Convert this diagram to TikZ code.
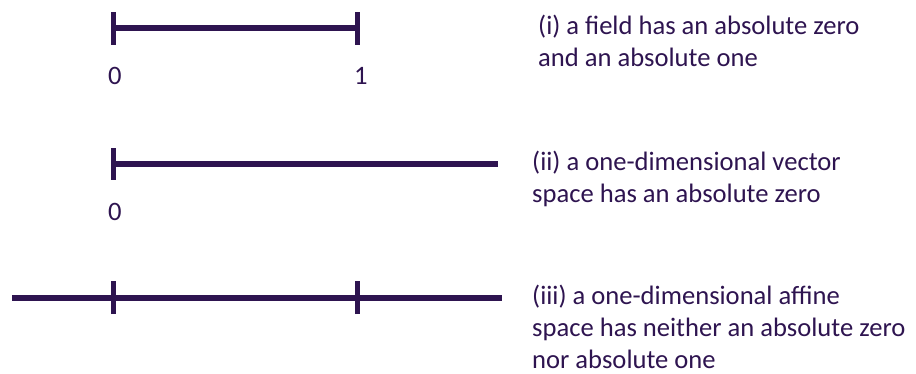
\documentclass[tikz,border=0pt]{standalone}
\usepackage{fontspec}
\setmainfont{Carlito}
\usetikzlibrary{positioning}
\definecolor{lineviolet}{RGB}{46,20,80}

\begin{document}
\begin{tikzpicture}[x=1pt,y=-1pt,
		bar/.style={line width=5.5pt, draw=lineviolet},
		tick/.style={line width=5pt, draw=lineviolet},
		numlabel/.style={anchor=base west, inner sep=0pt, text=lineviolet, font=\fontsize{26.6}{32}\selectfont},
		caption/.style={anchor=base west, inner sep=0pt, align=left, text=lineviolet, font=\fontsize{26.6}{32}\selectfont}]
				\useasboundingbox (0,0) rectangle (916,374);
				
				% (i) field
				\coordinate (fzero) at (113,28);
				\coordinate (fone) at (357,28);
				\draw[bar] (fzero) -- (fone);
				\draw[tick] ([yshift=-17pt]fzero) -- ([yshift=16pt]fzero);
				\draw[tick] ([yshift=-17pt]fone) -- ([yshift=16pt]fone);
				\node[numlabel] (fzerolabel) at (108,85) {0};
				\node[numlabel] (fonelabel) at (354,85) {1};
				\node[caption] (fieldtext) at (538,67) {(i) a field has an absolute zero\\and an absolute one};
				
				% (ii) vector space
				\coordinate (vzero) at (113,164);
				\coordinate (vend) at (498,164);
				\draw[bar] (vzero) -- (vend);
				\draw[tick] ([yshift=-16pt]vzero) -- ([yshift=16pt]vzero);
				\node[numlabel] (vzerolabel) at (108,221) {0};
				\node[caption] (vectortext) at (532,203) {(ii) a one-dimensional vector\\space has an absolute zero};
				
				% (iii) affine space
				\coordinate (astart) at (12,298);
				\coordinate (aend) at (502,298);
				\coordinate (aleft) at (113,298);
				\coordinate (aright) at (357,298);
				\draw[bar] (astart) -- (aend);
				\draw[tick] ([yshift=-16pt]aleft) -- ([yshift=17pt]aleft);
				\draw[tick] ([yshift=-16pt]aright) -- ([yshift=17pt]aright);
				\node[caption] (affinetext) at (532,368) {(iii) a one-dimensional affine\\space has neither an absolute zero\\nor absolute one};
			\end{tikzpicture}
\end{document}
